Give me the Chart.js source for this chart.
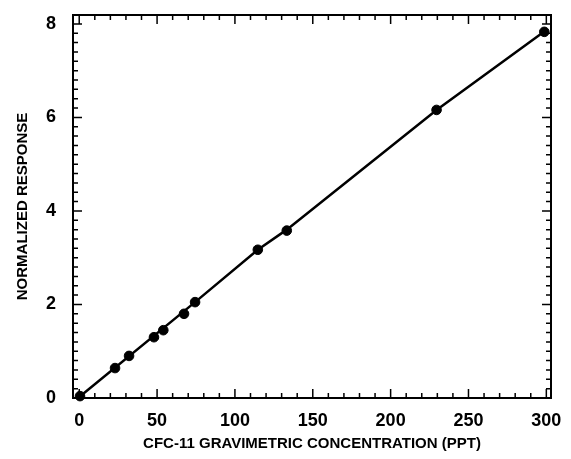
<!DOCTYPE html>
<html>
<head>
<meta charset="utf-8">
<script src="https://cdn.jsdelivr.net/npm/chart.js@4.4.1/dist/chart.umd.min.js"></script>
<style>
  html, body { margin: 0; padding: 0; background: #fff; }
  #wrap { width: 571px; height: 459px; }
</style>
</head>
<body>
<div id="wrap"><canvas id="calib"></canvas></div>
<script>
// measured calibration points
const concPpt      = [0.5, 23, 32, 48, 54, 67.3, 74.4, 114.7, 133.3, 229.5, 298.7];
const normResponse = [0.04, 0.64, 0.9, 1.3, 1.45, 1.8, 2.05, 3.17, 3.58, 6.16, 7.83];

// fitted line, as traced on the figure
const fitX = [0, 74.4, 114.7, 133.3, 229.5, 300];
const fitY = [0.02, 2.05, 3.17, 3.6, 6.16, 7.87];

// axes
const xTicks = [0, 50, 100, 150, 200, 250, 300];
const yTicks = [0, 2, 4, 6, 8];
const xMinorStep = 10;
const yMinorStep = 0.2;

const FONT = "'Liberation Sans', Arial, sans-serif";

// ticks pointing into the plot on all four sides + frame
const inwardTicks = {
    id: 'inwardTicks',
    afterDraw(chart) {
        const { ctx, chartArea: a, scales: { x, y } } = chart;
        ctx.save();
        ctx.strokeStyle = '#000';
        ctx.lineWidth = 2;
        ctx.strokeRect(a.left, a.top, a.right - a.left, a.bottom - a.top);

        ctx.lineWidth = 1.5;
        ctx.beginPath();
        const nx = Math.round(xTicks[xTicks.length - 1] / xMinorStep);
        for (let i = 0; i <= nx; i++) {
            const v = i * xMinorStep;
            const px = x.getPixelForValue(v);
            const len = xTicks.includes(v) ? 9 : 5;
            ctx.moveTo(px, a.bottom); ctx.lineTo(px, a.bottom - len);
            ctx.moveTo(px, a.top);    ctx.lineTo(px, a.top + len);
        }
        const ny = Math.round(yTicks[yTicks.length - 1] / yMinorStep);
        for (let i = 0; i <= ny; i++) {
            const v = i * yMinorStep;
            const py = y.getPixelForValue(v);
            const len = (i % 10 === 0) ? 9 : 5;
            ctx.moveTo(a.left, py);  ctx.lineTo(a.left + len, py);
            ctx.moveTo(a.right, py); ctx.lineTo(a.right - len, py);
        }
        ctx.stroke();
        ctx.restore();
    }
};

new Chart(document.getElementById('calib'), {
    type: 'scatter',
    data: {
        datasets: [
            {
                type: 'line',
                data: fitX.map((v, i) => ({ x: v, y: fitY[i] })),
                borderColor: '#000',
                borderWidth: 2.5,
                pointRadius: 0,
                tension: 0,
                fill: false,
                clip: false,
                order: 2
            },
            {
                data: concPpt.map((v, i) => ({ x: v, y: normResponse[i] })),
                backgroundColor: '#000',
                borderColor: '#000',
                pointRadius: 4.8,
                clip: false,
                order: 1
            }
        ]
    },
    options: {
        responsive: true,
        maintainAspectRatio: false,
        animation: false,
        layout: { padding: { top: 15, right: 20, bottom: 0, left: 0 } },
        plugins: {
            legend: { display: false },
            tooltip: { enabled: false }
        },
        scales: {
            x: {
                type: 'linear',
                min: -4,
                max: 303,
                afterBuildTicks: s => { s.ticks = xTicks.map(v => ({ value: v })); },
                afterFit: s => { s.height = 61; s.paddingLeft = 0; s.paddingRight = 0; },
                grid: { display: false },
                border: { display: false },
                ticks: {
                    padding: 4,
                    color: '#000',
                    font: { family: FONT, size: 18, weight: 'bold' }
                },
                title: {
                    display: true,
                    text: 'CFC-11 GRAVIMETRIC CONCENTRATION (PPT)',
                    color: '#000',
                    padding: { top: 0, bottom: 6 },
                    font: { family: FONT, size: 15, weight: 'bold' }
                }
            },
            y: {
                type: 'linear',
                min: 0,
                max: 8.19,
                afterBuildTicks: s => { s.ticks = yTicks.map(v => ({ value: v })); },
                afterFit: s => { s.width = 73; s.paddingTop = 0; s.paddingBottom = 0; },
                grid: { display: false },
                border: { display: false },
                ticks: {
                    padding: 9,
                    color: '#000',
                    font: { family: FONT, size: 18, weight: 'bold' }
                },
                title: {
                    display: true,
                    text: 'NORMALIZED RESPONSE',
                    color: '#000',
                    padding: { top: 14, bottom: 0 },
                    font: { family: FONT, size: 15, weight: 'bold' }
                }
            }
        }
    },
    plugins: [inwardTicks]
});
</script>
</body>
</html>
